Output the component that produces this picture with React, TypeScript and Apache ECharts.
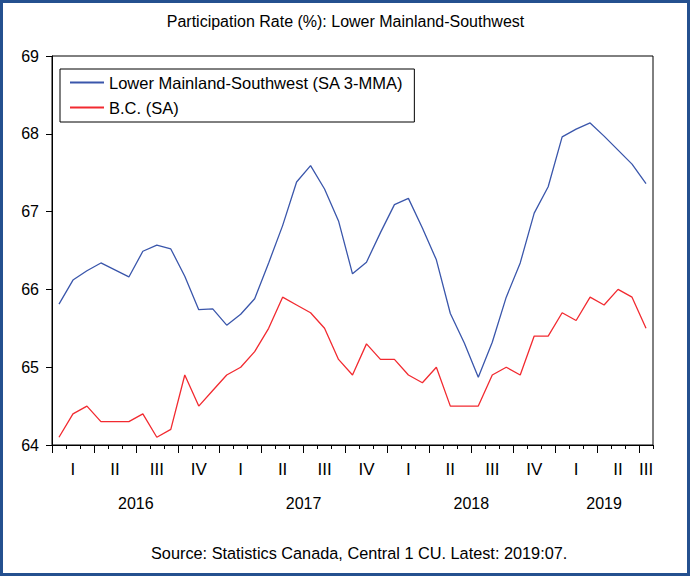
import React, { useEffect, useRef } from "react";
import * as echarts from "echarts";

const months: string[] = [];
for (let y = 2016; y <= 2019; y++) {
  for (let m = 1; m <= 12; m++) {
    if (y === 2019 && m > 7) break;
    months.push(`${y}-${String(m).padStart(2, "0")}`);
  }
}

const lowerMainland = [
  65.81, 66.12, 66.24, 66.34, 66.25, 66.16, 66.49, 66.57, 66.52, 66.17, 65.74, 65.75,
  65.54, 65.68, 65.88, 66.34, 66.82, 67.38, 67.59, 67.29, 66.88, 66.2, 66.35, 66.73,
  67.09, 67.17, 66.79, 66.38, 65.69, 65.31, 64.87, 65.32, 65.9, 66.34, 66.98, 67.32,
  67.96, 68.06, 68.14, 67.97, 67.79, 67.61, 67.36,
];

const bcSA = [
  64.1, 64.4, 64.5, 64.3, 64.3, 64.3, 64.4, 64.1, 64.2, 64.9, 64.5, 64.7,
  64.9, 65.0, 65.2, 65.5, 65.9, 65.8, 65.7, 65.5, 65.1, 64.9, 65.3, 65.1,
  65.1, 64.9, 64.8, 65.0, 64.5, 64.5, 64.5, 64.9, 65.0, 64.9, 65.4, 65.4,
  65.7, 65.6, 65.9, 65.8, 66.0, 65.9, 65.5,
];

const quarterNames = ["I", "II", "III", "IV"];
const yTicks = [64, 65, 66, 67, 68, 69];

const FONT = "Liberation Sans, Arial, sans-serif";

export default function App() {
  const ref = useRef<HTMLDivElement>(null);
  useEffect(() => {
    if (!ref.current) return;
    const chart = echarts.init(ref.current, undefined, { renderer: "svg" });

    const quarterBounds: number[] = [];
    months.forEach((mo, i) => {
      const m = parseInt(mo.slice(5), 10);
      if ((m - 1) % 3 === 0) quarterBounds.push(i);
    });
    const years: Record<string, number[]> = {};
    months.forEach((mo, i) => {
      const y = mo.slice(0, 4);
      (years[y] = years[y] || []).push(i);
    });
    const yearKeys = Object.keys(years);
    const yearCenters = yearKeys.map((y) => {
      const idx = years[y];
      return (idx[0] + idx[idx.length - 1] + 1) / 2;
    });
    const yearByCenter = (v: number) => {
      for (let j = 0; j < yearKeys.length; j++) {
        if (Math.abs(yearCenters[j] - v) < 1e-6) return yearKeys[j];
      }
      return "";
    };
    const lastIdx = months.length - 1;

    chart.setOption({
      animation: false,
      backgroundColor: "#ffffff",
      title: [
        {
          text: "Participation Rate (%): Lower Mainland-Southwest",
          left: "center",
          top: 8,
          textStyle: { fontFamily: FONT, fontSize: 16, fontWeight: "normal", color: "#000" },
        },
        {
          text: "Source: Statistics Canada, Central 1 CU. Latest: 2019:07.",
          left: 146,
          top: 540,
          textStyle: { fontFamily: FONT, fontSize: 16.3, fontWeight: "normal", color: "#000" },
        },
      ],
      graphic: [
        {
          type: "rect",
          shape: { x: 1.5, y: 1.5, width: 687, height: 573 },
          style: { fill: "none", stroke: "#24508f", lineWidth: 3 },
          silent: true,
        },
      ],
      legend: {
        orient: "vertical",
        left: 60,
        top: 69,
        padding: [5, 11, 6, 9],
        itemGap: 8,
        itemWidth: 34,
        itemHeight: 14,
        borderColor: "#000",
        borderWidth: 1,
        itemStyle: { opacity: 0 },
        textStyle: { fontFamily: FONT, fontSize: 16.5, color: "#000" },
        data: ["Lower Mainland-Southwest (SA 3-MMA)", "B.C. (SA)"],
      },
      grid: {
        left: 52,
        right: 38,
        top: 56,
        bottom: 134,
        show: true,
        borderColor: "#000",
        borderWidth: 1,
        backgroundColor: "transparent",
      },
      xAxis: [
        {
          type: "category",
          data: months,
          boundaryGap: true,
          position: "bottom",
          axisLine: { show: true, lineStyle: { color: "#000", width: 1 } },
          axisTick: { show: true, interval: 0, length: 4, lineStyle: { color: "#000" } },
          axisLabel: {
            interval: (i: number) => {
              const m = parseInt(months[i].slice(5), 10);
              return (m - 1) % 3 === 1 || i === lastIdx;
            },
            formatter: (v: string) => {
              const m = parseInt(v.slice(5), 10);
              return quarterNames[Math.floor((m - 1) / 3)];
            },
            margin: 16,
            fontFamily: FONT,
            fontSize: 17,
            color: "#000",
          },
          splitLine: { show: false },
        },
        {
          type: "value",
          position: "bottom",
          min: 0,
          max: months.length,
          axisLine: { show: false },
          axisTick: {
            show: true,
            length: 8,
            customValues: quarterBounds,
            lineStyle: { color: "#000" },
          },
          axisLabel: {
            customValues: yearCenters,
            formatter: (v: number) => yearByCenter(v),
            margin: 50,
            fontFamily: FONT,
            fontSize: 16,
            color: "#000",
          },
          splitLine: { show: false },
        },
      ],
      yAxis: {
        type: "value",
        min: 64,
        max: 69,
        interval: 1,
        axisLine: { show: true, lineStyle: { color: "#000" } },
        axisTick: { show: true, length: 6, lineStyle: { color: "#000" } },
        axisLabel: {
          margin: 13,
          fontFamily: FONT,
          fontSize: 16,
          color: "#000",
          customValues: yTicks,
        },
        splitLine: { show: false },
      },
      series: [
        {
          name: "Lower Mainland-Southwest (SA 3-MMA)",
          type: "line",
          data: lowerMainland,
          symbol: "none",
          lineStyle: { color: "#3a56ab", width: 1.3 },
          itemStyle: { color: "#3a56ab" },
        },
        {
          name: "B.C. (SA)",
          type: "line",
          data: bcSA,
          symbol: "none",
          lineStyle: { color: "#f22a30", width: 1.3 },
          itemStyle: { color: "#f22a30" },
        },
      ],
    });
    return () => chart.dispose();
  }, []);
  return (
    <div
      ref={ref}
      style={{ position: "fixed", left: 0, top: 0, width: 691, height: 579 }}
    />
  );
}
